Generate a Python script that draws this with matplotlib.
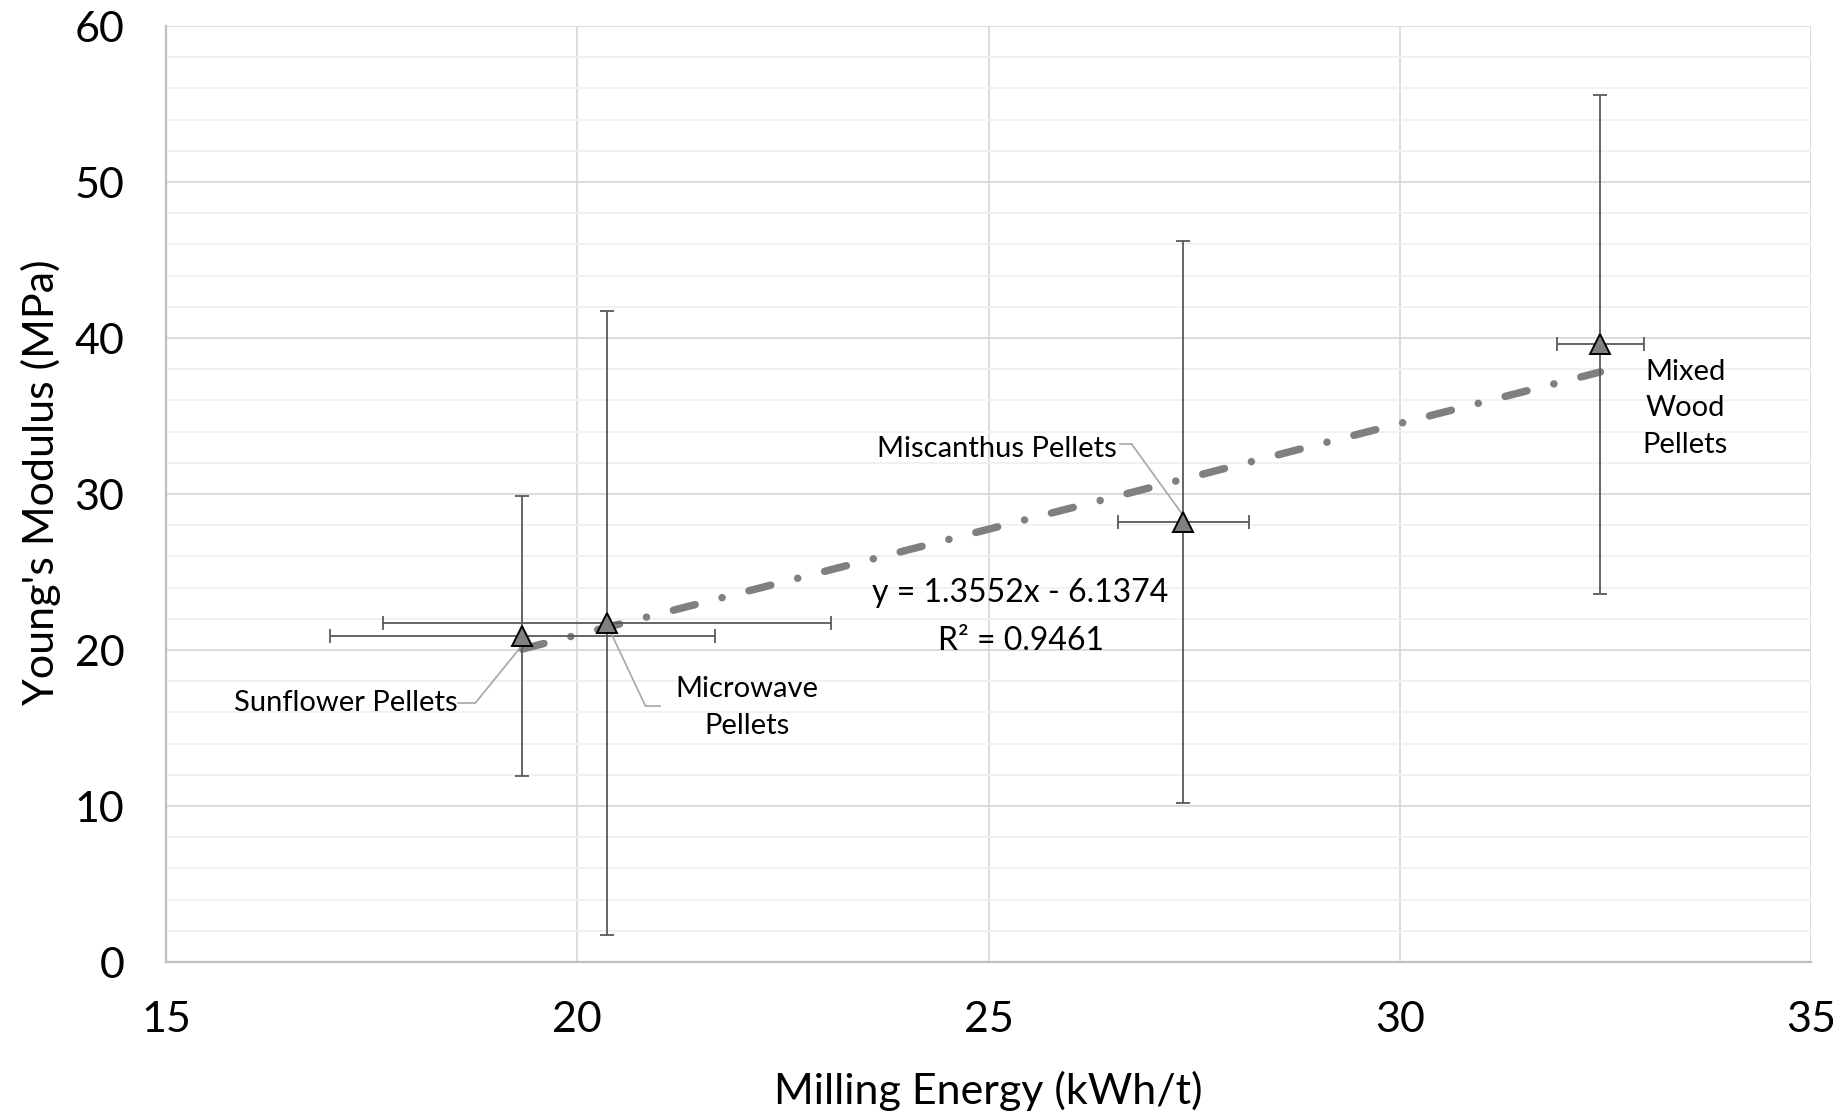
"""Young's modulus vs milling energy for biomass pellets, with linear trendline."""

import numpy as np
import matplotlib
matplotlib.use("Agg")
import matplotlib.pyplot as plt

plt.rcParams['font.family'] = ['Lato', 'DejaVu Sans']

# data
samples = ['Sunflower Pellets', 'Microwave\nPellets', 'Miscanthus Pellets', 'Mixed\nWood\nPellets']
energy = [19.33, 20.36, 27.37, 32.44]          # kWh/t
energy_err = [2.34, 2.72, 0.80, 0.53]
modulus = [20.9, 21.7, 28.2, 39.6]             # MPa
modulus_err = [9.0, 20.0, 18.0, 16.0]

# trendline as printed on the chart
slope = 1.3552
intercept = -6.1374
r_squared = 0.9461

x_ticks = [15, 20, 25, 30, 35]
y_ticks = [0, 10, 20, 30, 40, 50, 60]

W, H = 1844, 1114
fig = plt.figure(figsize=(W / 100, H / 100), dpi=100)
left, right, top, bottom = 166, 1811, 26, 962
ax = fig.add_axes([left / W, 1 - bottom / H, (right - left) / W, (bottom - top) / H])

ax.set_xlim(15, 35)
ax.set_ylim(0, 60)
ax.set_xticks(x_ticks)
ax.set_yticks(y_ticks)
ax.set_yticks(np.arange(0, 61, 2), minor=True)
ax.grid(True, which='major', color='#d9d9d9', lw=1.3)
ax.grid(True, which='minor', axis='y', color='#f0f0f0', lw=1.3)
ax.set_axisbelow(True)
for side in ['top', 'right']:
    ax.spines[side].set_visible(False)
for side in ['left', 'bottom']:
    ax.spines[side].set_color('#bfbfbf')
    ax.spines[side].set_linewidth(1.6)
ax.tick_params(which='both', length=0, labelsize=31)
ax.tick_params(axis='x', pad=28)
ax.tick_params(axis='y', pad=30)

# trendline over the data range
xs = np.array([min(energy), max(energy)])
ax.plot(xs, slope * xs + intercept, color='#808080', lw=5.4,
        linestyle=(0, (3.0, 3.7, 0.01, 3.7)), dash_capstyle='round',
        solid_capstyle='round', zorder=2)

ax.errorbar(energy, modulus, xerr=energy_err, yerr=modulus_err, fmt='none',
            ecolor='#595959', elinewidth=1.3, capsize=5, capthick=1.3, zorder=3)
ax.plot(energy, modulus, linestyle='none', marker='^', ms=15,
        markerfacecolor='#808080', markeredgecolor='black', markeredgewidth=1.4, zorder=4)

# point labels with leader lines
lead = dict(arrowstyle='-', color='#a6a6a6', lw=1.2, shrinkA=0, shrinkB=0)
ax.annotate('', xy=(energy[0], modulus[0] - 0.6), xytext=(18.76, 16.6), arrowprops=lead)
ax.plot([18.55, 18.76], [16.6, 16.6], color='#a6a6a6', lw=1.2)
ax.text(17.19, 16.6, samples[0], ha='center', va='center', fontsize=21)

ax.annotate('', xy=(energy[1] + 0.05, modulus[1] - 0.6), xytext=(20.83, 16.4), arrowprops=lead)
ax.plot([20.83, 21.0], [16.4, 16.4], color='#a6a6a6', lw=1.2)
ax.text(22.06, 16.3, samples[1], ha='center', va='center', fontsize=21, linespacing=1.5)

ax.annotate('', xy=(energy[2], modulus[2] + 0.4), xytext=(26.74, 33.2), arrowprops=lead)
ax.plot([26.6, 26.74], [33.2, 33.2], color='#a6a6a6', lw=1.2)
ax.text(25.1, 32.9, samples[2], ha='center', va='center', fontsize=21)

ax.text(33.47, 35.5, samples[3], ha='center', va='center', fontsize=21, linespacing=1.5)

sign = '-' if intercept < 0 else '+'
ax.text(25.39, 22.1, f'y = {slope:.4f}x {sign} {abs(intercept):.4f}\nR\u00b2 = {r_squared:.4f}',
        ha='center', va='center', fontsize=23, linespacing=1.75)

fig.text(988 / W, 1 - 1091 / H, 'Milling Energy (kWh/t)', ha='center', va='center', fontsize=31)
fig.text(41 / W, 1 - 482 / H, "Young's Modulus (MPa)", ha='center', va='center',
         rotation=90, fontsize=31)

fig.savefig('out.png', dpi=100)
